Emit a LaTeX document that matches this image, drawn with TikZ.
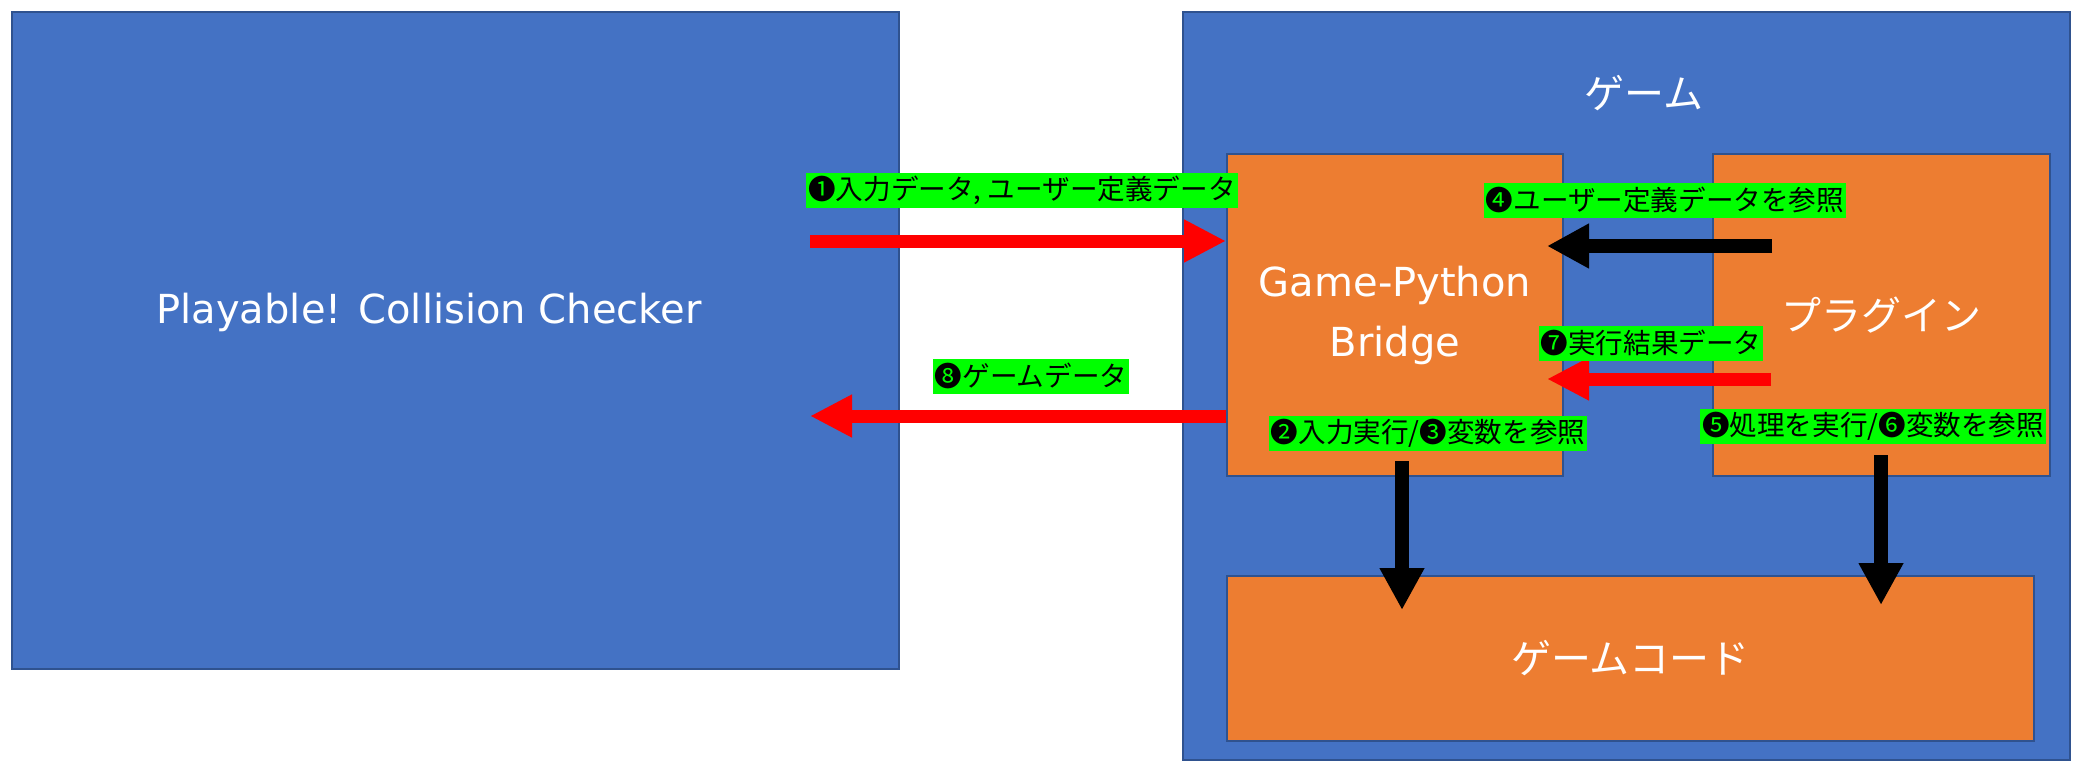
\documentclass[tikz,border=0pt]{standalone}
\usepackage{fontspec}
\usepackage{xcolor}
\usepackage{tikz}
\usetikzlibrary{calc,arrows.meta,positioning}
\setmainfont{DejaVu Sans}
\newfontfamily\jpfont{Noto Sans CJK JP}
\definecolor{pptBlue}{RGB}{68,114,196}
\definecolor{pptBlueDark}{RGB}{47,82,143}
\definecolor{pptOrange}{RGB}{237,125,49}
\definecolor{tagGreen}{RGB}{0,255,0}
\definecolor{flowRed}{RGB}{255,0,0}

\begin{document}
\begin{tikzpicture}[x=0.5pt,y=-0.5pt,
  bluebox/.style={draw=pptBlueDark, line width=1pt, fill=pptBlue, inner sep=0pt},
  orangebox/.style={draw=pptBlueDark, line width=1pt, fill=pptOrange, inner sep=0pt,
    text=white, align=center, font=\fontsize{20}{30}\selectfont},
  bigtext/.style={text=white, font=\fontsize{20}{30}\selectfont, inner sep=0pt},
  tag/.style={fill=tagGreen, text=black, inner xsep=1pt, inner ysep=0pt,
    minimum height=17.5pt, font=\jpfont\fontsize{13.8}{15}\selectfont},
  redarr/.style={draw=flowRed, line width=6.5pt, -{Triangle[length=21pt,width=20pt]}},
  blackarr/.style={draw=black, line width=7pt, -{Triangle[length=21pt,width=21pt]}}]
\useasboundingbox (0,0) rectangle (2086,776);

\node[bluebox, minimum width=443.5pt, minimum height=328.5pt] (checker) at (455,340) {};
\node[bluebox, minimum width=443.5pt, minimum height=374pt] (game) at (1626,386) {};
\node[bigtext] (checkertitle) at (429,312) {Playable! Collision Checker};
\node[bigtext] (gametitle) at (1644,93) {\jpfont ゲーム};

\node[orangebox, minimum width=168pt, minimum height=161pt] (bridge) at (1395,315) {Game-Python\\Bridge};
\node[orangebox, minimum width=168.5pt, minimum height=161pt] (plugin) at (1881.5,315) {\jpfont プラグイン};
\node[orangebox, minimum width=403.5pt, minimum height=82.5pt] (gamecode) at (1630.5,658.5) {\jpfont ゲームコード};

\coordinate (inputstart) at (810,241);
\coordinate (outputend) at (810,416);
\coordinate (refstart) at (1772,246);
\coordinate (refend) at (1547,246);
\coordinate (resultstart) at (1771,379);
\coordinate (resultend) at (1547,379);
\coordinate (execstart) at (1402,461);
\coordinate (execend) at (1402,610);
\coordinate (procstart) at (1881,455);
\coordinate (procend) at (1881,605);

\draw[redarr] (inputstart) -- (inputstart -| bridge.west);
\draw[redarr] (outputend -| bridge.west) -- (outputend);
\draw[blackarr] (refstart) -- (refend);
\draw[redarr] (resultstart) -- (resultend);
\draw[blackarr] (execstart) -- (execend);
\draw[blackarr] (procstart) -- (procend);

\node[tag] (tagone) at (1022,190) {❶入力データ, ユーザー定義データ};
\node[tag] (tagfour) at (1665,200) {❹ユーザー定義データを参照};
\node[tag] (tagseven) at (1651,343) {❼実行結果データ};
\node[tag] (tageight) at (1031,376) {❽ゲームデータ};
\node[tag] (tagtwo) at (1428,433) {❷入力実行/❸変数を参照};
\node[tag] (tagfive) at (1873,426) {❺処理を実行/❻変数を参照};
\end{tikzpicture}
\end{document}
